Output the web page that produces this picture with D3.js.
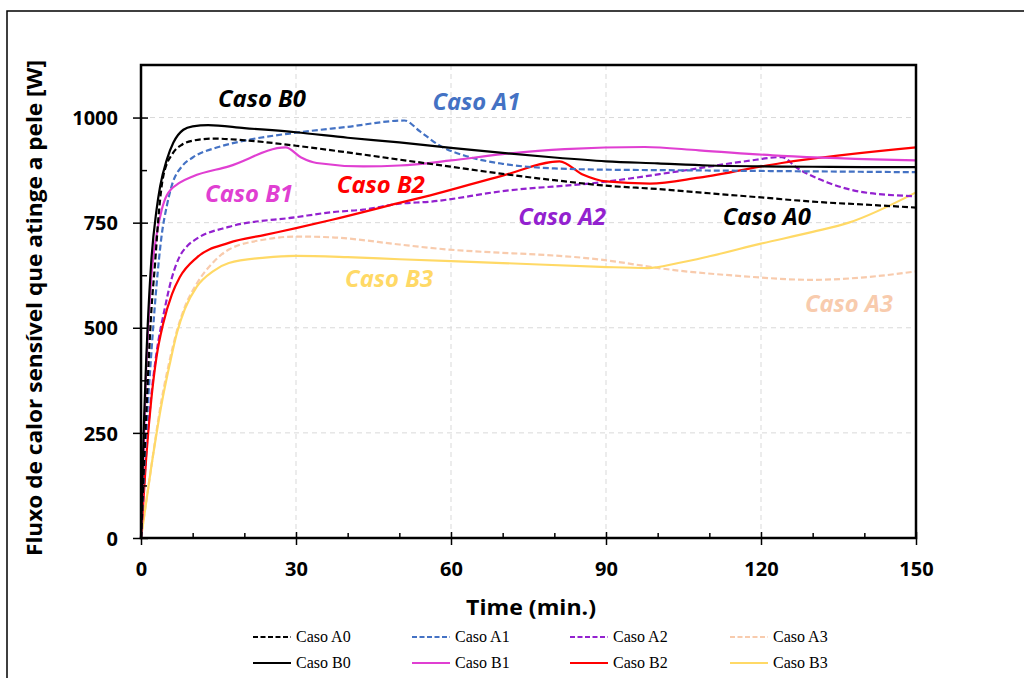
<!DOCTYPE html>
<html lang="pt">
<head>
<meta charset="UTF-8">
<title>Fluxo de calor sensível</title>
<script src="https://d3js.org/d3.v7.min.js"></script>
<style>
    body, html { margin: 0; padding: 0; background: #fff; }
    svg { display: block; }
    .tick text { font-family: "Open Sans", sans-serif; font-weight: bold; font-size: 20px; fill: #000; }
    .grid line { stroke: #d9d9d9; stroke-dasharray: 5,4; stroke-width: 1; }
    .serie { fill: none; stroke-width: 2.2; }
    .nota { font-family: "Open Sans", sans-serif; font-weight: bold; font-style: italic; font-size: 24px; }
    .leg text { font-family: "Liberation Serif", serif; font-size: 16px; fill: #000; }
</style>
</head>
<body>
<div id="chart"></div>
<script>
// dados (tempo em min., fluxo em W)
const casoA0_t = [0, 1, 2, 2.7, 3.5, 4.3, 6.2, 8, 10, 14, 20, 30, 40, 50, 60, 70, 80, 90, 100, 110, 120, 130, 140, 150];
const casoA0_v = [0, 290, 540, 650, 780, 860, 916, 936, 945, 950, 946, 933, 917, 900, 883, 866, 851, 838, 830, 820, 810, 800, 793, 786];

const casoA1_t = [0, 1, 2, 3, 4, 5, 6, 8, 10, 15, 20, 30, 40, 51, 54, 58, 63, 70, 80, 90, 100, 110, 120, 130, 140, 150];
const casoA1_v = [0, 250, 440, 600, 720, 790, 840, 885, 905, 930, 945, 964, 978, 993, 967, 932, 908, 890, 879, 876, 875, 874, 873, 872, 871, 870];

const casoA2_t = [0, 1, 2, 3, 4.5, 6, 7.5, 9, 10.8, 17, 30, 37, 43, 50, 56, 70, 89, 104, 117, 124, 127, 133, 140, 150];
const casoA2_v = [0, 200, 340, 440, 540, 620, 670, 695, 712, 740, 763, 775, 781, 795, 800, 825, 846, 872, 896, 906, 880, 845, 822, 813];

const casoA3_t = [0, 2, 4, 5.5, 7, 8.5, 10.8, 14, 17, 24, 30, 37, 50, 56, 89, 104, 115, 130, 140, 150];
const casoA3_v = [0, 170, 330, 420, 495, 550, 605, 656, 686, 710, 717, 715, 698, 690, 662, 636, 624, 614, 620, 634];

const casoB0_t = [0, 0.5, 1, 2, 3, 3.7, 5, 6.25, 8.2, 10, 13, 20, 30, 40, 50, 60, 70, 80, 90, 100, 110, 120, 130, 140, 150];
const casoB0_v = [0, 250, 420, 660, 780, 836, 900, 940, 971, 979, 982, 975, 965, 952, 941, 928, 916, 905, 896, 891, 886, 884, 883, 882, 882];

const casoB1_t = [0, 1, 2, 3, 4, 5, 7.5, 10, 17, 28, 31, 34, 43, 50, 60, 70, 82, 97.5, 108, 124, 150];
const casoB1_v = [0, 400, 620, 720, 780, 815, 845, 860, 884, 929, 905, 892, 884, 886, 898, 913, 925, 930, 922, 909, 898];

const casoB2_t = [0, 1, 2, 3, 4.3, 6, 7.5, 10.8, 17, 24, 30, 37, 50, 56, 70, 81, 85.6, 90, 98.5, 108, 124, 150];
const casoB2_v = [0, 190, 330, 430, 510, 580, 620, 667, 702, 721, 737, 757, 797, 815, 862, 896, 864, 848, 843, 857, 892, 929];

const casoB3_t = [0, 2, 4, 5.5, 7, 8.5, 10.8, 14, 17, 24, 30, 40, 50, 70, 89, 98, 104, 110, 120, 130, 137, 150];
const casoB3_v = [0, 170, 320, 410, 490, 545, 598, 635, 654, 667, 671, 668, 663, 654, 645, 642, 654, 670, 700, 728, 750, 822];

const nomes = ["Caso A0", "Caso A1", "Caso A2", "Caso A3", "Caso B0", "Caso B1", "Caso B2", "Caso B3"];
const tempos = [casoA0_t, casoA1_t, casoA2_t, casoA3_t, casoB0_t, casoB1_t, casoB2_t, casoB3_t];
const valores = [casoA0_v, casoA1_v, casoA2_v, casoA3_v, casoB0_v, casoB1_v, casoB2_v, casoB3_v];
const cores = ["#000000", "#4472C4", "#9321CF", "#F8CBAD", "#000000", "#E03FD2", "#FF0000", "#FFD966"];
const tracejado = [true, true, true, true, false, false, false, false];

const xTicks = [0, 30, 60, 90, 120, 150];
const yTicks = [0, 250, 500, 750, 1000];

// rotulos dentro do grafico: [nome, tempo, fluxo] (posicao da ancora do texto)
const notas = [
    ["Caso B0", 14.9, 1025],
    ["Caso A1", 56.4, 1018],
    ["Caso B1", 12.4, 800],
    ["Caso B2", 37.9, 821],
    ["Caso A2", 73.0, 745],
    ["Caso A0", 112.6, 745],
    ["Caso B3", 39.5, 598],
    ["Caso A3", 128.5, 538]
];
const corNota = {
    "Caso A0": "#000000", "Caso A1": "#4472C4", "Caso A2": "#9321CF", "Caso A3": "#F8CBAD",
    "Caso B0": "#000000", "Caso B1": "#E03FD2", "Caso B2": "#FF0000", "Caso B3": "#FFD966"
};

const W = 1024, H = 678;
const m = { left: 141, right: 108, top: 65, bottom: 140 };

const svg = d3.select("#chart").append("svg")
    .attr("width", W)
    .attr("height", H);

// moldura externa
svg.append("rect")
    .attr("x", 7).attr("y", 11)
    .attr("width", 1200).attr("height", 1000)
    .attr("fill", "none")
    .attr("stroke", "#000")
    .attr("stroke-width", 1.5);

const x = d3.scaleLinear().domain([0, 150]).range([m.left, W - m.right]);
const y = d3.scaleLinear().domain([0, 1125]).range([H - m.bottom, m.top]);

// grade
const grid = svg.append("g").attr("class", "grid");
grid.selectAll(".gx").data(xTicks.slice(1, -1)).enter().append("line")
    .attr("x1", d => x(d)).attr("x2", d => x(d))
    .attr("y1", y(0)).attr("y2", y(1125));
grid.selectAll(".gy").data(yTicks.slice(1)).enter().append("line")
    .attr("x1", x(0)).attr("x2", x(150))
    .attr("y1", d => y(d)).attr("y2", d => y(d));

// series
const linha = d3.line()
    .x(d => x(d[0]))
    .y(d => y(d[1]))
    .curve(d3.curveMonotoneX);

const ordem = [3, 7, 2, 6, 1, 5, 0, 4];
ordem.forEach(i => {
    const pts = tempos[i].map((t, k) => [t, valores[i][k]]);
    svg.append("path")
        .attr("class", "serie")
        .attr("d", linha(pts))
        .attr("stroke", cores[i])
        .attr("stroke-dasharray", tracejado[i] ? "6,3" : null);
});

// moldura do grafico
svg.append("rect")
    .attr("x", x(0)).attr("y", y(1125))
    .attr("width", x(150) - x(0)).attr("height", y(0) - y(1125))
    .attr("fill", "none")
    .attr("stroke", "#000")
    .attr("stroke-width", 2.5);

// eixo x
const gx = svg.append("g")
    .attr("transform", `translate(0,${y(0)})`)
    .call(d3.axisBottom(x).tickValues(xTicks).tickSize(7).tickPadding(17).tickFormat(d3.format("d")));
gx.select(".domain").remove();
gx.selectAll(".tick line").attr("y1", -6).attr("stroke-width", 1.5);

const gxMin = svg.append("g")
    .attr("transform", `translate(0,${y(0)})`)
    .call(d3.axisTop(x).tickValues(d3.range(10, 150, 10).filter(v => v % 30 !== 0)).tickSize(5).tickFormat(""));
gxMin.select(".domain").remove();
gxMin.selectAll(".tick line").attr("stroke-width", 1.5);

// eixo y
const gy = svg.append("g")
    .attr("transform", `translate(${x(0)},0)`)
    .call(d3.axisLeft(y).tickValues(yTicks).tickSize(8).tickPadding(15).tickFormat(d3.format("d")));
gy.select(".domain").remove();
gy.selectAll(".tick line").attr("x1", 7).attr("stroke-width", 1.5);
gy.selectAll(".tick text").attr("dy", "0.36em");

const gyMin = svg.append("g")
    .attr("transform", `translate(${x(0)},0)`)
    .call(d3.axisRight(y).tickValues([125, 375, 625, 875]).tickSize(6).tickFormat(""));
gyMin.select(".domain").remove();
gyMin.selectAll(".tick line").attr("stroke-width", 1.5);

// titulos
svg.append("text")
    .attr("x", 531).attr("y", 615)
    .attr("text-anchor", "middle")
    .attr("textLength", 130).attr("lengthAdjust", "spacingAndGlyphs")
    .style("font-family", "'Open Sans', sans-serif")
    .style("font-weight", "bold")
    .style("font-size", "22px")
    .text("Time (min.)");

svg.append("text")
    .attr("transform", "translate(42,308) rotate(-90)")
    .attr("text-anchor", "middle")
    .attr("textLength", 496).attr("lengthAdjust", "spacingAndGlyphs")
    .style("font-family", "'Open Sans', sans-serif")
    .style("font-weight", "bold")
    .style("font-size", "22px")
    .text("Fluxo de calor sensível que atinge a pele [W]");

// rotulos das curvas
svg.selectAll(".nota").data(notas).enter().append("text")
    .attr("class", "nota")
    .attr("x", d => x(d[1]))
    .attr("y", d => y(d[2]))
    .attr("textLength", 88).attr("lengthAdjust", "spacingAndGlyphs")
    .attr("fill", d => corNota[d[0]])
    .text(d => d[0]);

// legenda
const legX = [253, 412, 570, 730];
const legY = [637, 663];
const leg = svg.append("g").attr("class", "leg");
nomes.forEach((n, i) => {
    const lx = legX[i % 4], ly = legY[Math.floor(i / 4)];
    leg.append("line")
        .attr("x1", lx).attr("x2", lx + 38)
        .attr("y1", ly).attr("y2", ly)
        .attr("stroke", cores[i])
        .attr("stroke-width", 2)
        .attr("stroke-dasharray", tracejado[i] ? "5,2.5" : null);
    leg.append("text")
        .attr("x", lx + 43).attr("y", ly + 5)
        .text(n);
});
</script>
</body>
</html>
